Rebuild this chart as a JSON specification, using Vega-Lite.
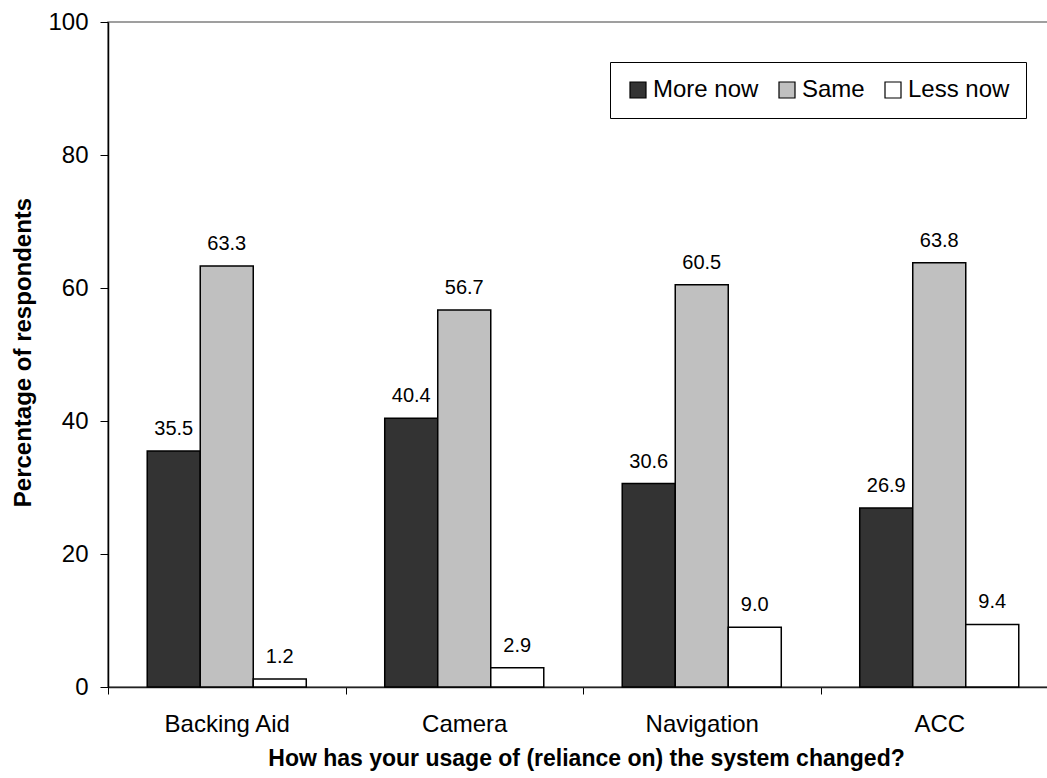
{
  "$schema": "https://vega.github.io/schema/vega-lite/v6.json",
  "width": 950,
  "height": 665,
  "autosize": {"type": "none"},
  "padding": {"left": 108, "top": 22, "right": 0, "bottom": 91},
  "background": "white",
  "config": {
    "font": "Liberation Sans",
    "view": {"stroke": "#808080", "strokeWidth": 1.5}
  },
  "data": {
    "values": [
      {"system": "Backing Aid", "response": "More now", "pct": 35.5},
      {"system": "Backing Aid", "response": "Same", "pct": 63.3},
      {"system": "Backing Aid", "response": "Less now", "pct": 1.2},
      {"system": "Camera", "response": "More now", "pct": 40.4},
      {"system": "Camera", "response": "Same", "pct": 56.7},
      {"system": "Camera", "response": "Less now", "pct": 2.9},
      {"system": "Navigation", "response": "More now", "pct": 30.6},
      {"system": "Navigation", "response": "Same", "pct": 60.5},
      {"system": "Navigation", "response": "Less now", "pct": 9.0},
      {"system": "ACC", "response": "More now", "pct": 26.9},
      {"system": "ACC", "response": "Same", "pct": 63.8},
      {"system": "ACC", "response": "Less now", "pct": 9.4}
    ]
  },
  "encoding": {
    "x": {
      "field": "system",
      "type": "nominal",
      "sort": ["Backing Aid", "Camera", "Navigation", "ACC"],
      "scale": {"paddingInner": 0, "paddingOuter": 0},
      "axis": {
        "tickBand": "extent",
        "labelAngle": 0,
        "labelFontSize": 24,
        "labelColor": "black",
        "labelPadding": 18,
        "tickSize": 7,
        "tickColor": "black",
        "domainColor": "#222222",
        "domainWidth": 1.5,
        "title": "How has your usage of (reliance on) the system changed?",
        "titleFontSize": 23,
        "titleFontWeight": "bold",
        "titleColor": "black",
        "titleX": 478,
        "titleY": 78,
        "titleAnchor": "middle",
        "titleAlign": "center",
        "titleBaseline": "alphabetic"
      }
    },
    "xOffset": {
      "field": "response",
      "sort": ["More now", "Same", "Less now"],
      "scale": {"paddingInner": 0, "paddingOuter": 0.74}
    },
    "y": {
      "field": "pct",
      "type": "quantitative",
      "scale": {"domain": [0, 100], "nice": false},
      "axis": {
        "values": [0, 20, 40, 60, 80, 100],
        "grid": false,
        "labelFontSize": 24,
        "labelColor": "black",
        "labelPadding": 12,
        "tickSize": 8,
        "tickColor": "black",
        "domainColor": "black",
        "domainWidth": 1.5,
        "title": "Percentage of respondents",
        "titleFontSize": 24,
        "titleFontWeight": "bold",
        "titleColor": "black",
        "titleAngle": -90,
        "titleX": -85,
        "titleY": 330,
        "titleAlign": "center",
        "titleBaseline": "middle"
      }
    }
  },
  "layer": [
    {
      "mark": {"type": "bar", "stroke": "black", "strokeWidth": 1.5},
      "encoding": {
        "fill": {
          "field": "response",
          "type": "nominal",
          "sort": ["More now", "Same", "Less now"],
          "scale": {
            "domain": ["More now", "Same", "Less now"],
            "range": ["#333333", "#c0c0c0", "#ffffff"]
          },
          "legend": {
            "title": null,
            "orient": "none",
            "legendX": 502,
            "legendY": 40,
            "direction": "horizontal",
            "columns": 3,
            "strokeColor": "black",
            "fillColor": "white",
            "padding": 16,
            "symbolType": "square",
            "symbolSize": 256,
            "symbolStrokeColor": "black",
            "symbolStrokeWidth": 1.2,
            "symbolOpacity": 1,
            "labelFontSize": 24,
            "labelColor": "black",
            "labelOffset": 3,
            "columnPadding": 16
          }
        }
      }
    },
    {
      "mark": {"type": "text", "fontSize": 20, "baseline": "bottom", "dy": -12, "color": "black"},
      "encoding": {
        "text": {"field": "pct", "type": "quantitative", "format": ".1f"}
      }
    }
  ]
}
